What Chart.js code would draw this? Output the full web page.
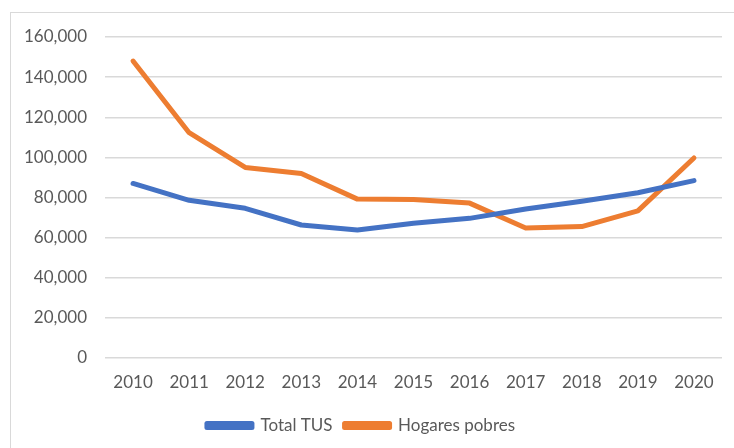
<!DOCTYPE html>
<html>
<head>
<meta charset="utf-8">
<script src="https://cdn.jsdelivr.net/npm/chart.js@4"></script>
<style>
  body { margin: 0; background: #fff; }
  #frame { position: absolute; left: 10px; top: 12px; width: 800px; height: 500px; border: 1px solid #d9d9d9; }
  #wrap { position: absolute; left: 0; top: 0; width: 734px; height: 448px; }
</style>
</head>
<body>
<div id="frame"></div>
<div id="wrap"><canvas id="chart" width="734" height="448"></canvas></div>
<script>
// years on the x axis
const years = ['2010', '2011', '2012', '2013', '2014', '2015', '2016', '2017', '2018', '2019', '2020'];
// series values
const totalTUS = [87000, 78600, 74600, 66300, 63800, 67200, 69600, 74300, 78100, 82400, 88400];
const hogaresPobres = [148000, 112300, 95000, 92000, 79200, 79000, 77200, 64800, 65500, 73300, 99700];

const text_color = '#595959';
const grid_color = '#d9d9d9';
const font = { family: 'Lato', size: 17 };

document.addEventListener('DOMContentLoaded', () => {
    const ctx = document.getElementById('chart');
    new Chart(ctx, {
        type: 'line',
        data: {
            labels: years,
            datasets: [{
                label: 'Total TUS',
                data: totalTUS,
                borderColor: '#4472C4',
                backgroundColor: '#4472C4',
                borderWidth: 5,
                pointRadius: 0,
                borderJoinStyle: 'round',
                borderCapStyle: 'round'
            }, {
                label: 'Hogares pobres',
                data: hogaresPobres,
                borderColor: '#ED7D31',
                backgroundColor: '#ED7D31',
                borderWidth: 5,
                pointRadius: 0,
                borderJoinStyle: 'round',
                borderCapStyle: 'round'
            }]
        },
        options: {
            responsive: false,
            animation: false,
            layout: {
                padding: { top: 37, left: 0, right: 12, bottom: 4 }
            },
            plugins: {
                tooltip: { enabled: false },
                legend: {
                    position: 'bottom',
                    labels: {
                        color: text_color,
                        boxWidth: 45,
                        boxHeight: 4,
                        padding: 12,
                        font: font
                    }
                }
            },
            scales: {
                x: {
                    offset: true,
                    grid: { display: false, drawTicks: false },
                    border: { display: false },
                    ticks: {
                        color: text_color,
                        padding: 14,
                        font: font,
                        maxRotation: 0
                    },
                    afterFit: (scale) => { scale.height = 47; }
                },
                y: {
                    min: 0,
                    max: 160000,
                    grid: { color: grid_color, lineWidth: 1.5, drawTicks: false },
                    border: { display: false },
                    ticks: {
                        stepSize: 20000,
                        color: text_color,
                        padding: 18,
                        font: font,
                        callback: (v) => v.toLocaleString('en-US')
                    },
                    afterFit: (scale) => { scale.width = 105; }
                }
            }
        }
    });
});
</script>
</body>
</html>
